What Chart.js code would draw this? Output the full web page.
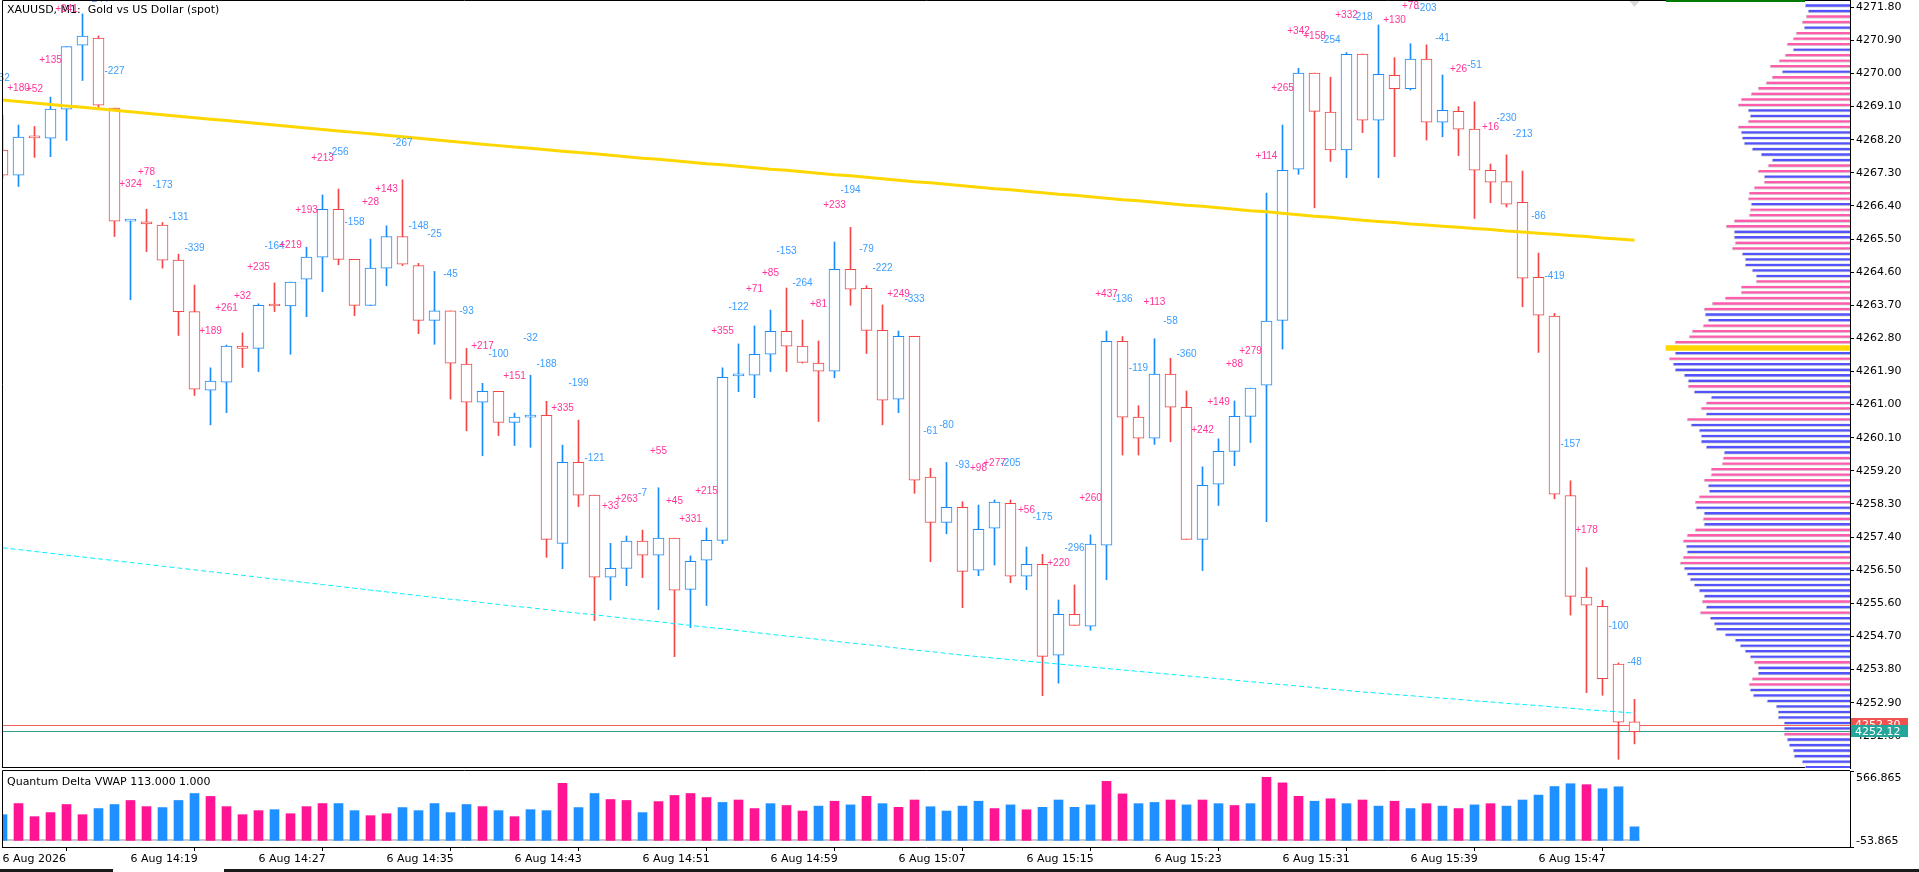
<!DOCTYPE html>
<html>
<head>
<meta charset="utf-8">
<script src="https://cdn.jsdelivr.net/npm/chart.js@4.4.1/dist/chart.umd.min.js"></script>
<style>
  body { margin: 0; background: #fff; width: 1919px; height: 872px; overflow: hidden; position: relative; }
  canvas { position: absolute; left: 0; }
  #main, #profile { top: 0; }
  #profile { pointer-events: none; }
  #delta { top: 769px; }
  .tab { position: absolute; top: 869px; height: 3px; background: #1a1a1a; }
</style>
</head>
<body>
<canvas id="main" width="1919" height="770"></canvas>
<canvas id="profile" width="1919" height="770"></canvas>
<canvas id="delta" width="1919" height="103"></canvas>
<div class="tab" style="left:0;width:113px"></div>
<div class="tab" style="left:224px;width:1695px"></div>
<script>
// XAUUSD M1, 6 Aug 14:11 .. 15:53 (103 bars)
const xTickLabels = ['6 Aug 2026', '6 Aug 14:19', '6 Aug 14:27', '6 Aug 14:35', '6 Aug 14:43', '6 Aug 14:51',
  '6 Aug 14:59', '6 Aug 15:07', '6 Aug 15:15', '6 Aug 15:23', '6 Aug 15:31', '6 Aug 15:39', '6 Aug 15:47'];
const barsPerTick = 8;
const priceTicks = [4271.80, 4270.90, 4270.00, 4269.10, 4268.20, 4267.30, 4266.40, 4265.50, 4264.60, 4263.70,
  4262.80, 4261.90, 4261.00, 4260.10, 4259.20, 4258.30, 4257.40, 4256.50, 4255.60, 4254.70, 4253.80, 4252.90, 4252.00];

const opens = [4267.92, 4267.24, 4268.30, 4268.24, 4269.03, 4270.77, 4270.96, 4269.06, 4265.99, 4265.97,
  4265.88, 4264.93, 4263.53, 4261.39, 4261.61, 4262.59, 4262.53, 4263.70, 4263.68, 4264.41,
  4265.01, 4266.31, 4264.95, 4263.70, 4264.71, 4265.57, 4264.78, 4263.29, 4263.55, 4262.10,
  4261.07, 4261.36, 4260.52, 4260.66, 4260.71, 4257.23, 4259.43, 4258.54, 4256.31, 4256.55,
  4257.29, 4256.91, 4257.37, 4255.98, 4256.77, 4257.31, 4261.78, 4261.80, 4262.37, 4262.99,
  4262.59, 4262.13, 4261.91, 4264.68, 4264.16, 4263.02, 4261.15, 4262.86, 4259.03, 4257.80,
  4258.21, 4256.50, 4257.64, 4258.32, 4256.34, 4256.66, 4254.19, 4255.30, 4254.98, 4257.18,
  4262.72, 4260.66, 4260.09, 4261.83, 4260.93, 4257.34, 4258.84, 4259.73, 4260.68, 4261.53,
  4263.29, 4267.40, 4270.01, 4268.95, 4267.92, 4270.53, 4268.73, 4269.95, 4269.59, 4270.39,
  4268.68, 4268.97, 4268.49, 4267.37, 4267.06, 4266.50, 4264.46, 4263.41, 4258.53, 4255.77,
  4255.52, 4253.95, 4252.38];
const highs = [4268.86, 4268.60, 4268.56, 4269.36, 4270.73, 4271.62, 4271.02, 4269.06, 4265.99, 4266.31,
  4265.95, 4265.09, 4264.25, 4262.00, 4262.62, 4262.95, 4263.74, 4264.31, 4264.33, 4265.28,
  4266.70, 4266.86, 4264.95, 4265.50, 4265.86, 4267.11, 4264.84, 4264.62, 4263.55, 4262.53,
  4261.58, 4261.36, 4260.77, 4261.80, 4261.09, 4259.90, 4260.58, 4258.54, 4257.23, 4257.43,
  4257.59, 4258.74, 4257.37, 4256.89, 4257.65, 4262.00, 4262.65, 4263.14, 4263.57, 4264.17,
  4263.30, 4262.73, 4265.42, 4265.82, 4264.23, 4263.71, 4263.00, 4262.86, 4259.27, 4259.43,
  4258.36, 4258.27, 4258.41, 4258.41, 4257.13, 4256.93, 4255.69, 4256.10, 4257.46, 4263.00,
  4262.85, 4260.97, 4262.79, 4262.26, 4261.37, 4259.31, 4260.07, 4261.10, 4261.45, 4266.75,
  4268.60, 4270.14, 4270.01, 4269.90, 4270.57, 4270.53, 4271.32, 4270.43, 4270.81, 4270.78,
  4269.96, 4269.10, 4269.23, 4267.54, 4267.79, 4267.35, 4265.12, 4263.48, 4258.93, 4256.57,
  4255.68, 4253.98, 4252.99];
const lows = [4267.16, 4266.93, 4267.72, 4267.74, 4268.18, 4269.81, 4269.08, 4265.57, 4263.85, 4265.16,
  4264.71, 4262.88, 4261.25, 4260.45, 4260.78, 4262.01, 4261.90, 4263.53, 4262.37, 4263.39,
  4264.07, 4264.80, 4263.42, 4263.69, 4264.23, 4264.78, 4262.93, 4262.64, 4261.15, 4260.29,
  4259.61, 4260.16, 4259.89, 4259.84, 4256.85, 4256.54, 4258.23, 4255.13, 4255.69, 4256.08,
  4256.30, 4255.43, 4254.15, 4254.94, 4255.54, 4257.22, 4261.35, 4261.19, 4261.90, 4261.90,
  4262.13, 4260.54, 4261.73, 4263.70, 4262.39, 4260.45, 4260.78, 4258.59, 4256.73, 4257.49,
  4255.48, 4256.35, 4256.64, 4256.16, 4255.97, 4253.09, 4253.43, 4255.00, 4254.87, 4256.24,
  4259.63, 4259.63, 4259.92, 4259.99, 4257.34, 4256.49, 4258.26, 4259.34, 4259.97, 4257.82,
  4262.51, 4267.26, 4266.35, 4267.61, 4267.17, 4268.39, 4267.17, 4267.74, 4269.55, 4268.19,
  4268.28, 4267.77, 4266.06, 4266.49, 4266.37, 4263.66, 4262.42, 4258.44, 4255.28, 4253.17,
  4253.10, 4251.36, 4251.78];
const closes = [4267.24, 4268.27, 4268.25, 4269.03, 4270.73, 4271.02, 4269.14, 4265.99, 4265.99, 4265.91,
  4264.93, 4263.53, 4261.42, 4261.64, 4262.59, 4262.53, 4263.70, 4263.68, 4264.33, 4265.01,
  4266.31, 4264.95, 4263.70, 4264.71, 4265.57, 4264.82, 4263.29, 4263.55, 4262.13, 4261.07,
  4261.36, 4260.52, 4260.66, 4260.67, 4257.34, 4259.43, 4258.54, 4256.31, 4256.55, 4257.29,
  4256.91, 4257.37, 4255.96, 4256.74, 4257.31, 4261.74, 4261.79, 4262.37, 4262.99, 4262.59,
  4262.15, 4261.91, 4264.68, 4264.14, 4263.02, 4261.12, 4262.86, 4258.95, 4257.80, 4258.21,
  4256.47, 4257.61, 4258.35, 4256.34, 4256.66, 4254.16, 4255.30, 4255.00, 4257.21, 4262.72,
  4260.66, 4260.09, 4261.83, 4260.93, 4257.34, 4258.81, 4259.73, 4260.68, 4261.45, 4263.27,
  4267.37, 4270.01, 4268.97, 4267.92, 4270.52, 4268.73, 4269.98, 4269.59, 4270.39, 4268.68,
  4269.00, 4268.49, 4267.37, 4267.05, 4266.45, 4264.44, 4263.43, 4258.57, 4255.79, 4255.55,
  4253.55, 4252.37, 4252.11];

// delta printed above every bar (null = not shown)
const deltas = [-32, 180, 52, 135, 241, -96, -244, -227, 324, 78,
  -173, -131, -339, 189, 261, 32, 235, -164, 219, 193,
  213, -256, -158, 28, 143, -267, -148, -25, -45, -93,
  217, -100, 151, -32, -188, 335, -199, -121, 33, 263,
  -7, 55, 45, 331, 215, 355, -122, 71, 85, -153,
  -264, 81, 233, -194, -79, -222, 249, -333, -61, -80,
  -93, 98, 277, -205, 56, -175, 220, -296, 260, 437,
  -136, -119, 113, -58, -360, 242, 149, 88, 279, 114,
  265, 342, 158, -254, 332, -218, -150, 130, 78, -203,
  -41, 26, -51, 16, -230, -213, -86, -419, -157, 178,
  null, -100, -48];

// slow moving average (yellow)
const maLine = [4269.28, 4269.24, 4269.20, 4269.16, 4269.12, 4269.08, 4269.04, 4269.00, 4268.96, 4268.92,
  4268.88, 4268.84, 4268.80, 4268.76, 4268.72, 4268.68, 4268.64, 4268.60, 4268.56, 4268.52,
  4268.48, 4268.44, 4268.40, 4268.36, 4268.32, 4268.28, 4268.24, 4268.20, 4268.16, 4268.12,
  4268.08, 4268.04, 4268.00, 4267.97, 4267.93, 4267.89, 4267.85, 4267.82, 4267.78, 4267.74,
  4267.70, 4267.67, 4267.63, 4267.59, 4267.55, 4267.52, 4267.48, 4267.44, 4267.40, 4267.37,
  4267.33, 4267.29, 4267.25, 4267.22, 4267.18, 4267.14, 4267.10, 4267.06, 4267.03, 4266.99,
  4266.95, 4266.91, 4266.87, 4266.84, 4266.80, 4266.76, 4266.72, 4266.69, 4266.65, 4266.61,
  4266.57, 4266.54, 4266.50, 4266.46, 4266.42, 4266.39, 4266.35, 4266.31, 4266.27, 4266.24,
  4266.20, 4266.16, 4266.12, 4266.09, 4266.05, 4266.01, 4265.98, 4265.95, 4265.91, 4265.88,
  4265.85, 4265.82, 4265.79, 4265.76, 4265.72, 4265.69, 4265.66, 4265.63, 4265.60, 4265.57,
  4265.53, 4265.50, 4265.47];

// lower VWAP band (cyan dots)
const vwapBand = [4257.11, 4257.06, 4257.01, 4256.96, 4256.91, 4256.86, 4256.81, 4256.76, 4256.71, 4256.66,
  4256.61, 4256.56, 4256.51, 4256.46, 4256.41, 4256.36, 4256.31, 4256.26, 4256.21, 4256.16,
  4256.11, 4256.06, 4256.01, 4255.96, 4255.91, 4255.86, 4255.81, 4255.76, 4255.71, 4255.67,
  4255.62, 4255.57, 4255.52, 4255.48, 4255.43, 4255.38, 4255.33, 4255.29, 4255.24, 4255.19,
  4255.14, 4255.10, 4255.05, 4255.00, 4254.95, 4254.91, 4254.86, 4254.81, 4254.76, 4254.71,
  4254.67, 4254.62, 4254.57, 4254.52, 4254.48, 4254.43, 4254.38, 4254.33, 4254.29, 4254.24,
  4254.19, 4254.15, 4254.11, 4254.07, 4254.03, 4253.99, 4253.95, 4253.91, 4253.87, 4253.83,
  4253.79, 4253.75, 4253.71, 4253.67, 4253.63, 4253.59, 4253.55, 4253.51, 4253.47, 4253.43,
  4253.39, 4253.35, 4253.31, 4253.27, 4253.23, 4253.19, 4253.16, 4253.12, 4253.09, 4253.05,
  4253.02, 4252.99, 4252.95, 4252.92, 4252.88, 4252.85, 4252.82, 4252.78, 4252.75, 4252.71,
  4252.68, 4252.65, 4252.61];

const bidPrice = 4252.12;
const askPrice = 4252.30;

// Quantum Delta VWAP histogram (p = buy, b = sell)
const histVals = [210, 301, 194, 227, 293, 210, 260, 293, 326, 276,
  268, 326, 383, 359, 276, 210, 243, 251, 218, 276,
  301, 301, 243, 202, 218, 268, 243, 301, 227, 293,
  276, 243, 194, 251, 243, 466, 268, 383, 334, 326,
  227, 317, 367, 383, 350, 310, 330, 260, 300, 285,
  240, 280, 320, 290, 360, 300, 270, 330, 275, 240,
  280, 320, 260, 290, 250, 270, 330, 270, 290, 482,
  380, 300, 310, 330, 290, 330, 300, 285, 300, 515,
  470, 360, 320, 340, 300, 330, 280, 320, 260, 300,
  280, 260, 290, 300, 280, 330, 370, 440, 463, 455,
  422, 438, 111];
const histCols = 'bpppppbbpp' + 'bbbppppbpp' + 'pbbppbbbbb' + 'pbpbbpbbpp' + 'bppppbppbp' +
  'pbpbpbppbb' + 'bbpbpbbbbp' + 'pbbpbpbpbp' + 'ppbpbpbpbp' + 'bpbpbbbbbp' + 'bbb';
const histMin = -53.865;
const histMax = 566.865;

// volume profile, one row per 0.15 from the top (p = buy, b = sell, y = POC)
const profileTop = 4271.84;
const profileStep = 0.15;
const profileLen = [45, 42, 44, 48, 46, 54, 57, 63, 57, 65,
  71, 80, 68, 78, 84, 92, 99, 109, 112, 102,
  100, 102, 112, 109, 108, 106, 98, 89, 78, 82,
  92, 86, 86, 96, 101, 102, 99, 100, 101, 116,
  124, 116, 116, 115, 118, 108, 105, 105, 98, 94,
  94, 109, 109, 125, 138, 146, 145, 142, 147, 158,
  161, 175, 184, 175, 181, 177, 175, 166, 162, 162,
  156, 139, 144, 149, 144, 163, 159, 151, 149, 149,
  144, 126, 127, 128, 139, 139, 146, 142, 141, 151,
  155, 154, 146, 147, 146, 155, 163, 167, 164, 163,
  167, 170, 166, 163, 160, 156, 151, 146, 148, 144,
  150, 140, 136, 134, 125, 115, 110, 105, 100, 96,
  92, 92, 98, 101, 100, 97, 83, 74, 72, 72,
  66, 66, 66, 63, 61, 57, 56, 48, 45];
const profileCol = 'bbppbpppbp' + 'ppbppppppb' + 'bppbbbbbbp' + 'pbppppbppp' + 'pbbppbbbbb' +
  'ppppppbbpp' + 'ppybpbbbbp' + 'bbppbpbbbb' + 'bbpppppbbp' + 'pbbpbpppbb' +
  'ppbbbbbbpb' + 'pbbbbbbbbp' + 'bbppbbbbbb' + 'bbpbbbbbb';

// ---- layout ----
const bull = '#1a8cfa', bear = '#f44646';
const barPx = 16;
const xMin = -0.03125, xMax = xMin + 1848 / barPx;
const yMin = 4251.124, yMax = 4271.998;
const axisFont = { family: 'DejaVu Sans', size: 11 };
const noUi = { legend: { display: false }, tooltip: { enabled: false } };
const idx = opens.map((_, i) => i);

// keep the plot area exactly where MetaTrader has it (no room reserved for edge labels)
function fixWidth(w) {
  return s => { s.width = w; s.paddingTop = 0; s.paddingBottom = 0; };
}

const mainDecor = {
  id: 'mainDecor',
  beforeDatasetsDraw(chart) {
    const { ctx, chartArea: a, scales: { y } } = chart;
    ctx.save();
    ctx.lineWidth = 1;
    [[askPrice, '#f0605f'], [bidPrice, '#2e9e8e']].forEach(([p, c]) => {
      const py = Math.round(y.getPixelForValue(p)) + 0.5;
      ctx.strokeStyle = c;
      ctx.beginPath(); ctx.moveTo(a.left, py); ctx.lineTo(a.right, py); ctx.stroke();
    });
    ctx.restore();
  },
  afterDatasetsDraw(chart) {
    const { ctx, scales: { x, y } } = chart;
    ctx.save();
    ctx.textBaseline = 'middle';
    ctx.textAlign = 'left';
    ctx.fillStyle = '#000';
    ctx.font = "11px 'DejaVu Sans'";
    ctx.fillText('XAUUSD, M1:  Gold vs US Dollar (spot)', 7, 10);
    ctx.font = "10px 'Liberation Sans'";
    ctx.textAlign = 'center';
    deltas.forEach((d, i) => {
      if (d === null) return;
      ctx.fillStyle = d > 0 ? '#ff3399' : '#3a9cff';
      ctx.fillText((d > 0 ? '+' : '') + d, x.getPixelForValue(i), y.getPixelForValue(highs[i]) - 37);
    });
    ctx.restore();
  },
  afterDraw(chart) {
    const { ctx, chartArea: a, scales: { x, y } } = chart;
    ctx.save();
    ctx.strokeStyle = '#000';
    ctx.lineWidth = 1;
    ctx.beginPath();
    ctx.moveTo(a.left + 0.5, a.bottom); ctx.lineTo(a.left + 0.5, 0.5); ctx.lineTo(a.right, 0.5);
    ctx.moveTo(a.left, a.bottom - 0.5); ctx.lineTo(a.right, a.bottom - 0.5);
    ctx.stroke();
    ctx.strokeStyle = '#007a00';
    ctx.lineWidth = 2;
    ctx.beginPath(); ctx.moveTo(1666, 1); ctx.lineTo(1805, 1); ctx.stroke();
    // shift marker over the last bar
    const lx = x.getPixelForValue(opens.length - 1);
    ctx.fillStyle = '#d8d8d8';
    ctx.beginPath(); ctx.moveTo(lx - 5, 1); ctx.lineTo(lx + 5, 1); ctx.lineTo(lx, 7); ctx.fill();
    // price tags
    ctx.font = "11px 'DejaVu Sans'";
    ctx.textBaseline = 'middle';
    ctx.textAlign = 'left';
    [[askPrice, '#ef5350', 13], [bidPrice, '#26a69a', 12]].forEach(([p, c, h]) => {
      const py = y.getPixelForValue(p);
      ctx.fillStyle = c;
      ctx.fillRect(a.right + 1, Math.round(py - h / 2), 57, h);
      ctx.fillStyle = '#fff';
      ctx.fillText(p.toFixed(2), a.right + 5, py + 0.5);
    });
    ctx.restore();
  }
};

new Chart(document.getElementById('main'), {
  type: 'bar',
  data: {
    datasets: [
      {
        type: 'line', order: 0,
        data: idx.map(i => ({ x: i, y: maLine[i] })),
        borderColor: '#ffd700', borderWidth: 3, pointRadius: 0, tension: 0
      },
      {
        type: 'line', order: 0,
        data: idx.map(i => ({ x: i, y: vwapBand[i] })),
        borderColor: '#00f0ff', borderWidth: 1, borderDash: [5, 3], pointRadius: 0, tension: 0
      },
      {
        order: 1, grouped: false,
        data: idx.map(i => ({ x: i, y: [opens[i], closes[i]] })),
        backgroundColor: '#ffffff',
        borderColor: idx.map(i => closes[i] >= opens[i] ? bull : bear),
        borderWidth: 1, borderSkipped: false, barThickness: 11, minBarLength: 2
      },
      {
        order: 2, grouped: false,
        data: idx.map(i => ({ x: i, y: [lows[i], highs[i]] })),
        backgroundColor: idx.map(i => closes[i] >= opens[i] ? bull : bear),
        borderWidth: 0, barThickness: 1
      }
    ]
  },
  options: {
    responsive: false, animation: false, devicePixelRatio: 1, events: [],
    layout: { padding: { left: 2, right: 0, top: 0, bottom: 2 } },
    plugins: noUi,
    scales: {
      x: { type: 'linear', min: xMin, max: xMax, offset: false, display: false },
      y: {
        type: 'linear', position: 'right', min: yMin, max: yMax,
        afterBuildTicks: s => { s.ticks = priceTicks.map(v => ({ value: v })); },
        afterFit: fixWidth(69),
        ticks: { autoSkip: false, padding: 2, color: '#000', font: axisFont, callback: v => v.toFixed(2) },
        grid: { drawOnChartArea: false, tickLength: 4, color: '#000' },
        border: { color: '#000' }
      }
    }
  },
  plugins: [mainDecor]
});

// volume profile on the right edge
const levels = profileLen.map((_, i) => +(profileTop - i * profileStep).toFixed(2));
function profileSet(code, color, thick) {
  return {
    grouped: false,
    data: levels.map((p, i) => ({ x: profileLen[i], y: p })).filter((_, i) => profileCol[i] === code),
    backgroundColor: color,
    borderColor: '#d6d6d6',
    borderWidth: code === 'y' ? 0 : { bottom: 1, left: 1, top: 0, right: 0 },
    borderSkipped: false,
    barThickness: thick
  };
}

new Chart(document.getElementById('profile'), {
  type: 'bar',
  data: { datasets: [profileSet('p', '#ff5cad', 3), profileSet('b', '#5252ff', 3), profileSet('y', '#ffd700', 5)] },
  options: {
    indexAxis: 'y',
    responsive: false, animation: false, devicePixelRatio: 1, events: [],
    layout: { padding: { left: 2, right: 69, top: 0, bottom: 2 } },
    plugins: noUi,
    scales: {
      x: { type: 'linear', display: false, reverse: true, min: 0, max: 1848 },
      y: { type: 'linear', display: false, offset: false, min: yMin, max: yMax }
    }
  }
});

// lower panel
const deltaDecor = {
  id: 'deltaDecor',
  beforeDatasetsDraw(chart) {
    const { ctx, chartArea: a, scales: { x, y } } = chart;
    const zy = Math.round(y.getPixelForValue(0));
    ctx.save();
    ctx.strokeStyle = '#c8c8c8';
    ctx.lineWidth = 2;
    ctx.beginPath(); ctx.moveTo(a.left, zy); ctx.lineTo(x.getPixelForValue(histVals.length - 1) + 5, zy); ctx.stroke();
    ctx.restore();
  },
  afterDraw(chart) {
    const { ctx, chartArea: a } = chart;
    ctx.save();
    ctx.strokeStyle = '#000';
    ctx.lineWidth = 1;
    ctx.beginPath();
    ctx.moveTo(a.left + 0.5, a.bottom); ctx.lineTo(a.left + 0.5, a.top - 0.5); ctx.lineTo(a.right, a.top - 0.5);
    ctx.stroke();
    ctx.font = "11px 'DejaVu Sans'";
    ctx.fillStyle = '#000';
    ctx.textBaseline = 'middle';
    ctx.textAlign = 'left';
    ctx.fillText('Quantum Delta VWAP 113.000 1.000', 7, 13);
    ctx.fillText(histMax.toFixed(3), a.right + 6, a.top + 7);
    ctx.fillText(histMin.toFixed(3), a.right + 6, a.bottom - 6);
    ctx.restore();
  }
};

new Chart(document.getElementById('delta'), {
  type: 'bar',
  data: {
    datasets: [{
      data: histVals.map((v, i) => ({ x: i, y: v })),
      backgroundColor: histVals.map((_, i) => histCols[i] === 'p' ? '#ff1493' : '#1e90ff'),
      borderWidth: 0, barThickness: 9
    }]
  },
  options: {
    responsive: false, animation: false, devicePixelRatio: 1, events: [],
    layout: { padding: { left: 2, right: 0, top: 2, bottom: 0 } },
    plugins: noUi,
    scales: {
      x: {
        type: 'linear', min: xMin, max: xMax, offset: false, position: 'bottom',
        afterBuildTicks: s => { s.ticks = xTickLabels.map((_, i) => ({ value: i * barsPerTick })); },
        afterFit: s => { s.height = 25; s.paddingLeft = 0; s.paddingRight = 0; },
        ticks: { autoSkip: false, maxRotation: 0, minRotation: 0, align: 'start', padding: 2, color: '#000', font: axisFont,
          callback: (v, i) => xTickLabels[i] },
        grid: { drawOnChartArea: false, tickLength: 4, color: '#000' },
        border: { color: '#000' }
      },
      y: {
        type: 'linear', position: 'right', min: histMin, max: histMax,
        afterBuildTicks: s => { s.ticks = [{ value: histMin }, { value: histMax }]; },
        afterFit: fixWidth(69),
        ticks: { display: false },
        grid: { drawOnChartArea: false, tickLength: 4, color: '#000' },
        border: { color: '#000' }
      }
    }
  },
  plugins: [deltaDecor]
});
</script>
</body>
</html>
